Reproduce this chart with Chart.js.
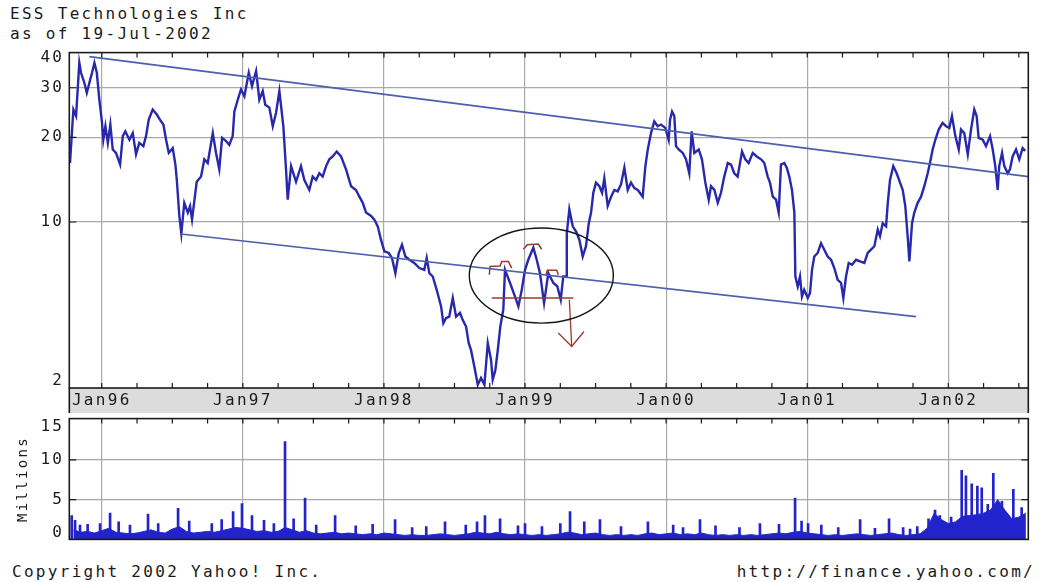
<!DOCTYPE html>
<html>
<head>
<meta charset="utf-8">
<title>ESS Technologies Inc</title>
<script src="https://cdn.jsdelivr.net/npm/chart.js@4.4.1/dist/chart.umd.min.js"></script>
<style>
  body { margin: 0; background: #fff; }
  #pagina { position: relative; width: 1042px; height: 582px; overflow: hidden; background: #fff;
            font-family: "DejaVu Sans Mono", monospace; color: #1a1a1a; }
  .texto { position: absolute; font-size: 16px; line-height: 16px; letter-spacing: 2.3px; white-space: pre; }
  canvas { position: absolute; left: 0; }
</style>
</head>
<body>
<div id="pagina">
  <div class="texto" style="left:10px;top:6px">ESS Technologies Inc</div>
  <div class="texto" style="left:10px;top:26px">as of 19-Jul-2002</div>
  <canvas id="precio" width="1042" height="413" style="top:0"></canvas>
  <canvas id="volumen" width="1042" height="150" style="top:404px"></canvas>
  <div class="texto" style="left:12px;top:564px">Copyright 2002 Yahoo! Inc.</div>
  <div class="texto" style="right:7px;top:564px">http://finance.yahoo.com/</div>
</div>
<script>
// fechas en años decimales (1996.0 = 1 de enero de 1996)
const fechasPrecio = [
  1995.775, 1995.799, 1995.818, 1995.841, 1995.853, 1995.877, 1995.894, 1995.912, 1995.931, 1995.948, 1995.965, 1995.983,
  1996.002, 1996.011, 1996.026, 1996.043, 1996.061, 1996.078, 1996.101, 1996.130, 1996.149, 1996.167, 1996.196, 1996.220,
  1996.243, 1996.266, 1996.295, 1996.314, 1996.333, 1996.361, 1996.390, 1996.420, 1996.437, 1996.456, 1996.475, 1996.503,
  1996.522, 1996.532, 1996.550, 1996.564, 1996.585, 1996.610, 1996.626, 1996.640, 1996.673, 1996.704, 1996.727, 1996.751,
  1996.787, 1996.810, 1996.833, 1996.853, 1996.881, 1996.904, 1996.928, 1996.940, 1996.964, 1996.987,
  1997.011, 1997.042, 1997.065, 1997.094, 1997.117, 1997.141, 1997.159, 1997.188, 1997.212, 1997.235, 1997.259, 1997.287,
  1997.306, 1997.318, 1997.342, 1997.377, 1997.412, 1997.436, 1997.471, 1997.495, 1997.519, 1997.542, 1997.566, 1997.590,
  1997.613, 1997.637, 1997.665, 1997.696, 1997.731, 1997.767, 1997.802, 1997.826, 1997.850, 1997.873, 1997.909, 1997.932,
  1997.956, 1997.979,
  1998.003, 1998.034, 1998.057, 1998.081, 1998.105, 1998.128, 1998.152, 1998.180, 1998.215, 1998.251, 1998.286, 1998.303,
  1998.322, 1998.346, 1998.374, 1998.405, 1998.421, 1998.440, 1998.463, 1998.488, 1998.511, 1998.539, 1998.558, 1998.582,
  1998.601, 1998.617, 1998.641, 1998.665, 1998.688, 1998.712, 1998.736, 1998.759, 1998.771, 1998.790, 1998.807, 1998.825,
  1998.846, 1998.858, 1998.894, 1998.929, 1998.953, 1998.977,
  1999.000, 1999.023, 1999.059, 1999.083, 1999.106, 1999.135, 1999.165, 1999.201, 1999.229, 1999.253, 1999.271, 1999.291,
  1999.296, 1999.314, 1999.338, 1999.362, 1999.385, 1999.409, 1999.432, 1999.452, 1999.468, 1999.484, 1999.503, 1999.527,
  1999.546, 1999.562, 1999.586, 1999.610, 1999.633, 1999.657, 1999.680, 1999.704, 1999.728, 1999.751, 1999.775, 1999.799,
  1999.834, 1999.853, 1999.870, 1999.893, 1999.916, 1999.940, 1999.964, 1999.994,
  2000.018, 2000.028, 2000.042, 2000.058, 2000.070, 2000.089, 2000.118, 2000.141, 2000.164, 2000.181, 2000.200, 2000.231,
  2000.254, 2000.278, 2000.302, 2000.318, 2000.342, 2000.366, 2000.389, 2000.412, 2000.437, 2000.460, 2000.483, 2000.507,
  2000.538, 2000.561, 2000.585, 2000.614, 2000.642, 2000.673, 2000.696, 2000.720, 2000.736, 2000.756, 2000.779, 2000.798,
  2000.814, 2000.838, 2000.855, 2000.873, 2000.892, 2000.909, 2000.916, 2000.933, 2000.949, 2000.963, 2000.979,
  2001.004, 2001.020, 2001.034, 2001.050, 2001.074, 2001.098, 2001.121, 2001.145, 2001.169, 2001.192, 2001.216, 2001.240,
  2001.256, 2001.275, 2001.294, 2001.318, 2001.346, 2001.374, 2001.405, 2001.429, 2001.452, 2001.476, 2001.500, 2001.516,
  2001.535, 2001.559, 2001.571, 2001.587, 2001.610, 2001.634, 2001.658, 2001.677, 2001.695, 2001.712, 2001.724, 2001.743,
  2001.759, 2001.783, 2001.807, 2001.830, 2001.854, 2001.870, 2001.889, 2001.908, 2001.932, 2001.960, 2001.984,
  2002.007, 2002.026, 2002.050, 2002.074, 2002.090, 2002.113, 2002.138, 2002.161, 2002.184, 2002.201, 2002.215, 2002.244,
  2002.267, 2002.296, 2002.315, 2002.333, 2002.350, 2002.361, 2002.381, 2002.397, 2002.421, 2002.437, 2002.456, 2002.480,
  2002.503, 2002.527, 2002.545
];
const precios = [
  16.2, 25.1, 23.8, 36.8, 33.9, 31.2, 28.8, 31.2, 33.9, 36.8, 33.9, 27.2,
  22.5, 19.6, 21.9, 19.1, 22.2, 18.1, 17.6, 16.0, 20.2, 21.0, 19.6, 20.7,
  17.4, 19.1, 18.6, 20.2, 23.1, 25.1, 24.1, 22.8, 22.2, 19.6, 17.6, 18.3,
  16.0, 14.1, 10.5, 9.1, 11.7, 10.8, 11.4, 10.2, 13.9, 14.5, 16.7, 16.2,
  20.7, 17.6, 15.4, 19.9, 19.4, 18.8, 20.2, 24.7, 27.2, 29.6,
  28.0, 33.9, 30.4, 34.4, 27.2, 29.2, 26.1, 25.5, 21.9, 24.4, 29.2, 21.9,
  15.4, 12.0, 15.8, 13.9, 15.8, 14.1, 13.0, 14.5, 14.1, 14.9, 14.5, 15.8,
  16.7, 17.1, 17.8, 17.1, 15.4, 13.4, 13.0, 12.3, 11.7, 10.8, 10.5, 10.2,
  9.65, 8.65,
  7.87, 7.76, 7.45, 6.58, 7.76, 8.3, 7.54, 7.34, 7.15, 6.86, 6.76, 7.45,
  6.58, 6.40, 5.74, 5.01, 4.37, 4.55, 4.61, 5.37, 4.61, 4.75, 4.49, 4.25,
  3.71, 3.51, 3.06, 2.64, 2.79, 2.64, 3.71, 3.24, 2.75, 2.98, 3.51, 4.25,
  4.88, 6.76, 6.07, 5.43, 5.01, 5.74,
  6.76, 7.34, 8.1, 7.34, 6.58, 5.15, 6.58, 6.07, 5.90, 5.29, 6.40, 6.40,
  9.1, 11.1, 9.65, 9.25, 8.65, 7.54, 8.2, 9.9, 10.8, 12.7, 13.8, 13.4,
  12.7, 14.3, 11.4, 12.3, 13.0, 12.85, 13.6, 15.6, 13.0, 13.8, 13.2, 13.0,
  12.3, 15.8, 18.1, 20.7, 22.8, 21.9, 22.2, 21.6,
  19.6, 23.1, 24.7, 23.8, 18.6, 18.1, 17.6, 16.7, 14.9, 21.0, 17.6, 18.1,
  16.7, 13.8, 12.0, 13.4, 13.0, 11.7, 12.7, 14.5, 16.2, 16.0, 14.9, 14.5,
  17.8, 16.7, 16.2, 17.6, 17.1, 16.7, 16.2, 14.5, 13.8, 12.3, 12.0, 10.8,
  16.0, 16.2, 15.6, 14.5, 13.0, 10.8, 6.40, 5.90, 6.40, 5.43, 5.74,
  5.37, 5.59, 6.76, 7.54, 7.76, 8.4, 7.97, 7.54, 7.34, 6.86, 6.23, 6.07,
  5.37, 6.40, 7.15, 7.05, 7.34, 7.24, 7.15, 7.76, 7.97, 8.2, 9.4, 8.9,
  9.9, 9.65, 11.7, 14.1, 15.8, 14.9, 13.8, 13.0, 11.4, 8.9, 7.24, 9.9,
  10.8, 11.7, 12.3, 13.4, 14.9, 16.2, 18.1, 19.6, 21.3, 22.5, 21.9,
  21.6, 23.8, 20.2, 18.1, 21.3, 20.7, 17.4, 21.3, 25.1, 23.8, 19.9, 19.6,
  18.6, 20.2, 18.1, 15.8, 13.0, 15.8, 17.6, 15.8, 14.9, 15.4, 17.1, 18.1,
  16.7, 18.3, 17.9
];

// volumen diario de fondo (millones) y los picos sueltos
const fechasVolumen = [
  1995.80, 1995.85, 1995.90, 1995.95,
  1996.00, 1996.05, 1996.10, 1996.15, 1996.20, 1996.25, 1996.30, 1996.35, 1996.40, 1996.45,
  1996.50, 1996.55, 1996.60, 1996.65, 1996.70, 1996.75, 1996.80, 1996.85, 1996.90, 1996.95,
  1997.00, 1997.05, 1997.10, 1997.15, 1997.20, 1997.25, 1997.30, 1997.35, 1997.40, 1997.45,
  1997.50, 1997.55, 1997.60, 1997.65, 1997.70, 1997.75, 1997.80, 1997.85, 1997.90, 1997.95,
  1998.00, 1998.05, 1998.10, 1998.15, 1998.20, 1998.25, 1998.30, 1998.35, 1998.40, 1998.45,
  1998.50, 1998.55, 1998.60, 1998.65, 1998.70, 1998.75, 1998.80, 1998.85, 1998.90, 1998.95,
  1999.00, 1999.05, 1999.10, 1999.15, 1999.20, 1999.25, 1999.30, 1999.35, 1999.40, 1999.45,
  1999.50, 1999.55, 1999.60, 1999.65, 1999.70, 1999.75, 1999.80, 1999.85, 1999.90, 1999.95,
  2000.00, 2000.05, 2000.10, 2000.15, 2000.20, 2000.25, 2000.30, 2000.35, 2000.40, 2000.45,
  2000.50, 2000.55, 2000.60, 2000.65, 2000.70, 2000.75, 2000.80, 2000.85, 2000.90, 2000.95,
  2001.00, 2001.05, 2001.10, 2001.15, 2001.20, 2001.25, 2001.30, 2001.35, 2001.40, 2001.45,
  2001.50, 2001.55, 2001.60, 2001.65, 2001.70, 2001.75, 2001.80, 2001.85, 2001.90, 2001.95,
  2002.00, 2002.05, 2002.10, 2002.15, 2002.20, 2002.25, 2002.30, 2002.35, 2002.40, 2002.45,
  2002.50, 2002.55
];
const volumenes = [
  1.2, 0.9, 1.0, 0.8,
  1.1, 1.4, 0.9, 0.8, 0.7, 0.8, 1.0, 1.2, 0.9, 0.8,
  1.3, 1.6, 1.0, 0.8, 0.9, 1.0, 0.9, 1.1, 1.3, 1.5,
  1.4, 1.2, 1.0, 1.1, 0.9, 1.0, 1.5, 1.2, 0.9, 1.1,
  0.8, 0.7, 0.8, 0.9, 0.7, 0.8, 0.7, 0.6, 0.7, 0.6,
  0.8, 0.7, 0.6, 0.5, 0.6, 0.5, 0.5, 0.6, 0.7, 0.6,
  0.5, 0.6, 0.7, 0.9, 0.8, 0.7, 0.9, 0.7, 0.6, 0.7,
  0.6, 0.5, 0.6, 0.5, 0.6, 0.7, 0.9, 0.8, 0.6, 0.7,
  0.8, 0.6, 0.5, 0.6, 0.5, 0.6, 0.5, 0.7, 0.8, 0.6,
  0.7, 0.8, 0.6, 0.7, 0.6, 0.8, 0.6, 0.5, 0.6, 0.5,
  0.6, 0.5, 0.6, 0.5, 0.6, 0.7, 0.8, 0.7, 0.9, 1.0,
  0.8, 0.7, 0.6, 0.5, 0.6, 0.5, 0.6, 0.7, 0.6, 0.5,
  0.6, 0.7, 0.8, 0.6, 0.5, 0.6, 0.7, 1.4, 3.3, 2.5,
  2.0, 2.2, 2.9, 3.0, 3.1, 3.3, 3.7, 5.0, 3.7, 2.6,
  2.8, 3.3
];
const fechasPicos = [
  1995.787, 1995.811, 1995.846, 1995.900, 1995.988, 1996.059, 1996.120, 1996.200, 1996.328, 1996.400,
  1996.541, 1996.620, 1996.780, 1996.850, 1996.931, 1996.994, 1997.065, 1997.150, 1997.220, 1997.299,
  1997.360, 1997.441, 1997.520, 1997.654, 1997.800, 1997.920, 1998.079, 1998.200, 1998.300, 1998.433,
  1998.580, 1998.660, 1998.716, 1998.823, 1998.950, 1999.000, 1999.120, 1999.250, 1999.319, 1999.420,
  1999.531, 1999.680, 1999.871, 2000.050, 2000.120, 2000.240, 2000.350, 2000.520, 2000.665, 2000.800,
  2000.914, 2000.960, 2001.006, 2001.100, 2001.220, 2001.375, 2001.480, 2001.580, 2001.680, 2001.729,
  2001.780, 2001.860, 2001.906, 2001.940, 2002.020, 2002.095, 2002.125, 2002.166, 2002.206, 2002.237,
  2002.280, 2002.319, 2002.380, 2002.461, 2002.520
];
const picos = [
  3.0, 2.4, 1.8, 1.9, 2.0, 3.3, 2.2, 1.8, 3.2, 2.0,
  3.9, 2.3, 2.0, 2.5, 3.5, 4.5, 3.0, 2.4, 2.0, 12.3,
  2.6, 5.2, 1.8, 3.0, 1.7, 1.9, 2.5, 1.5, 1.6, 2.2,
  1.8, 2.2, 3.0, 2.6, 1.7, 2.0, 1.6, 2.0, 3.5, 2.2,
  2.5, 1.6, 2.2, 1.8, 1.5, 2.5, 1.7, 1.5, 2.0, 1.9,
  5.2, 2.3, 2.0, 1.8, 1.5, 2.5, 1.4, 2.6, 1.5, 1.3,
  1.6, 2.6, 3.7, 3.0, 2.8, 8.7, 8.0, 7.0, 6.7, 6.5,
  4.4, 8.3, 4.8, 6.3, 4.0
];

// lineas de tendencia dibujadas a mano (inicio y fin)
const tendenciaAltaFechas = [1995.912, 2002.567];
const tendenciaAltaPrecios = [38.7, 14.5];
const tendenciaBajaFechas = [1996.562, 2001.771];
const tendenciaBajaPrecios = [9.06, 4.61];

// marcas rojas del patron dentro del circulo
const soporteFechas = [1998.764, 1999.342];
const soportePrecios = [5.37, 5.37];
const flechaFechas = [1999.314, 1999.331];
const flechaPrecios = [5.29, 3.61];
const puntaFechas = [1999.236, 1999.331, 1999.418];
const puntaPrecios = [4.03, 3.61, 4.08];
const marca1Fechas = [1998.747, 1998.752, 1998.823, 1998.835, 1998.882, 1998.906];
const marca1Precios = [6.49, 6.95, 6.98, 7.24, 7.24, 6.86];
const marca2Fechas = [1998.988, 1999.016, 1999.094, 1999.118];
const marca2Precios = [8.0, 8.3, 8.35, 8.0];
const marca3Fechas = [1999.149, 1999.158, 1999.225, 1999.236];
const marca3Precios = [6.49, 6.73, 6.73, 6.49];
const circuloFechas = [1998.605, 1999.626];
const circuloPrecios = [9.52, 4.37];

// ejes
const anios = [1996, 1997, 1998, 1999, 2000, 2001, 2002];
const etiquetasAnios = ['Jan96', 'Jan97', 'Jan98', 'Jan99', 'Jan00', 'Jan01', 'Jan02'];
const ticksPrecio = [2.72, 10, 20, 30, 38.3];
const etiquetasPrecio = ['2', '10', '20', '30', '40'];
const rejillaPrecio = [10, 20, 30];
const ticksVolumen = [0.875, 5, 10, 14.2];
const etiquetasVolumen = ['0', '5', '10', '15'];
const rejillaVolumen = [5, 10];

const fuente = { family: '"DejaVu Sans Mono", monospace', size: 16 };
const azul = '#2828ad';
const rojo = '#9c3a2c';

function puntos(xs, ys) {
  return xs.map((x, i) => ({ x: x, y: ys[i] }));
}

// marco negro, marcas trimestrales hacia adentro y franja gris de fechas
const marco = {
  id: 'marco',
  beforeUpdate(chart) { chart.ctx.letterSpacing = '2.3px'; },
  beforeDraw(chart, args, opts) {
    const ctx = chart.ctx, a = chart.chartArea;
    ctx.letterSpacing = '2.3px';
    if (opts.franja) {
      ctx.save();
      ctx.fillStyle = '#dcdcdc';
      ctx.fillRect(a.left, a.bottom, a.right - a.left, chart.height - a.bottom);
      ctx.restore();
    }
  },
  afterDraw(chart, args, opts) {
    const ctx = chart.ctx, a = chart.chartArea, xs = chart.scales.x, ys = chart.scales.y;
    ctx.save();
    ctx.strokeStyle = '#1a1a1a';
    ctx.lineWidth = 1.2;
    ctx.beginPath();
    for (let q = Math.ceil(xs.min * 4) / 4; q <= xs.max; q += 0.25) {
      const px = xs.getPixelForValue(q);
      ctx.moveTo(px, a.top); ctx.lineTo(px, a.top + 5);
      if (opts.abajo) { ctx.moveTo(px, a.bottom); ctx.lineTo(px, a.bottom - 5); }
    }
    opts.rejilla.forEach(v => {
      const py = ys.getPixelForValue(v);
      ctx.moveTo(a.left, py); ctx.lineTo(a.left + 7, py);
      ctx.moveTo(a.right, py); ctx.lineTo(a.right - 7, py);
    });
    ctx.stroke();
    ctx.lineWidth = 1.6;
    ctx.strokeRect(a.left, a.top, a.right - a.left, a.bottom - a.top);
    if (opts.franja) {
      ctx.beginPath();
      ctx.moveTo(a.left, a.bottom); ctx.lineTo(a.left, chart.height);
      ctx.moveTo(a.right, a.bottom); ctx.lineTo(a.right, chart.height);
      ctx.stroke();
    }
    ctx.restore();
  }
};

// elipse negra alrededor del patron
const elipse = {
  id: 'elipse',
  afterDatasetsDraw(chart) {
    const xs = chart.scales.x, ys = chart.scales.y, ctx = chart.ctx;
    const x1 = xs.getPixelForValue(circuloFechas[0]), x2 = xs.getPixelForValue(circuloFechas[1]);
    const y1 = ys.getPixelForValue(circuloPrecios[0]), y2 = ys.getPixelForValue(circuloPrecios[1]);
    ctx.save();
    ctx.strokeStyle = '#151515';
    ctx.lineWidth = 1.4;
    ctx.beginPath();
    ctx.ellipse((x1 + x2) / 2, (y1 + y2) / 2, Math.abs(x2 - x1) / 2, Math.abs(y2 - y1) / 2, 0, 0, Math.PI * 2);
    ctx.stroke();
    ctx.restore();
  }
};

function trazo(xs, ys, color, ancho) {
  return { data: puntos(xs, ys), borderColor: color, borderWidth: ancho, pointRadius: 0, tension: 0, order: 1 };
}

new Chart(document.getElementById('precio').getContext('2d'), {
  type: 'line',
  data: {
    datasets: [
      trazo(tendenciaAltaFechas, tendenciaAltaPrecios, '#4d5fae', 1.6),
      trazo(tendenciaBajaFechas, tendenciaBajaPrecios, '#4d5fae', 1.6),
      trazo(soporteFechas, soportePrecios, rojo, 1.5),
      trazo(flechaFechas, flechaPrecios, rojo, 1.3),
      trazo(puntaFechas, puntaPrecios, rojo, 1.3),
      trazo(marca1Fechas, marca1Precios, rojo, 1.5),
      trazo(marca2Fechas, marca2Precios, rojo, 1.5),
      trazo(marca3Fechas, marca3Precios, rojo, 1.5),
      { data: puntos(fechasPrecio, precios), borderColor: azul, borderWidth: 2.4, pointRadius: 0, tension: 0, order: 2 }
    ]
  },
  options: {
    responsive: false,
    animation: false,
    events: [],
    layout: { padding: { top: 52.6, right: 13.7, left: 0, bottom: 0 } },
    plugins: {
      legend: { display: false },
      tooltip: { enabled: false },
      marco: { franja: true, abajo: true, rejilla: rejillaPrecio }
    },
    scales: {
      x: {
        type: 'linear', min: 1995.77, max: 2002.567, offset: false,
        afterBuildTicks: s => { s.ticks = anios.map(v => ({ value: v })); },
        afterFit: s => { s.height = 25; },
        ticks: { font: fuente, color: '#1a1a1a', padding: 3, maxRotation: 0, autoSkip: false,
                 callback: (v, i) => etiquetasAnios[i] },
        grid: { color: '#a9a9a9', lineWidth: 1.2, drawTicks: false },
        border: { display: false }
      },
      y: {
        type: 'logarithmic', min: 2.57, max: 40,
        afterBuildTicks: s => { s.ticks = ticksPrecio.map(v => ({ value: v })); },
        afterFit: s => { s.width = 69.3; },
        ticks: { font: fuente, color: '#1a1a1a', padding: 5, autoSkip: false,
                 callback: (v, i) => etiquetasPrecio[i] },
        grid: { drawTicks: false, lineWidth: 1.2,
                color: c => (c.tick && rejillaPrecio.includes(c.tick.value)) ? '#a9a9a9' : 'rgba(0,0,0,0)' },
        border: { display: false }
      }
    }
  },
  plugins: [marco, elipse]
});

new Chart(document.getElementById('volumen').getContext('2d'), {
  type: 'line',
  data: {
    datasets: [
      { type: 'bar', data: puntos(fechasPicos, picos), backgroundColor: '#2323cc', barThickness: 2, order: 1 },
      { data: puntos(fechasVolumen, volumenes), borderColor: '#2323cc', backgroundColor: '#2323cc',
        borderWidth: 1, pointRadius: 0, tension: 0, fill: 'origin', order: 2 }
    ]
  },
  options: {
    responsive: false,
    animation: false,
    events: [],
    layout: { padding: { top: 10, right: 13.7, left: 0, bottom: 4.5 } },
    plugins: {
      legend: { display: false },
      tooltip: { enabled: false },
      marco: { franja: false, abajo: false, rejilla: rejillaVolumen }
    },
    scales: {
      x: {
        type: 'linear', min: 1995.77, max: 2002.567, offset: false,
        afterBuildTicks: s => { s.ticks = anios.map(v => ({ value: v })); },
        afterFit: s => { s.height = 0; },
        ticks: { display: false },
        grid: { color: '#a9a9a9', lineWidth: 1.2, drawTicks: false, offset: false },
        border: { display: false }
      },
      y: {
        min: 0, max: 15.2,
        afterBuildTicks: s => { s.ticks = ticksVolumen.map(v => ({ value: v })); },
        afterFit: s => { s.width = 69.3; },
        title: { display: true, text: 'Millions', font: { family: fuente.family, size: 14 }, color: '#1a1a1a',
                 padding: { top: 14.6, bottom: 0 } },
        ticks: { font: fuente, color: '#1a1a1a', padding: 5, autoSkip: false,
                 callback: (v, i) => etiquetasVolumen[i] },
        grid: { drawTicks: false, lineWidth: 1.2,
                color: c => (c.tick && rejillaVolumen.includes(c.tick.value)) ? '#a9a9a9' : 'rgba(0,0,0,0)' },
        border: { display: false }
      }
    }
  },
  plugins: [marco]
});
</script>
</body>
</html>
